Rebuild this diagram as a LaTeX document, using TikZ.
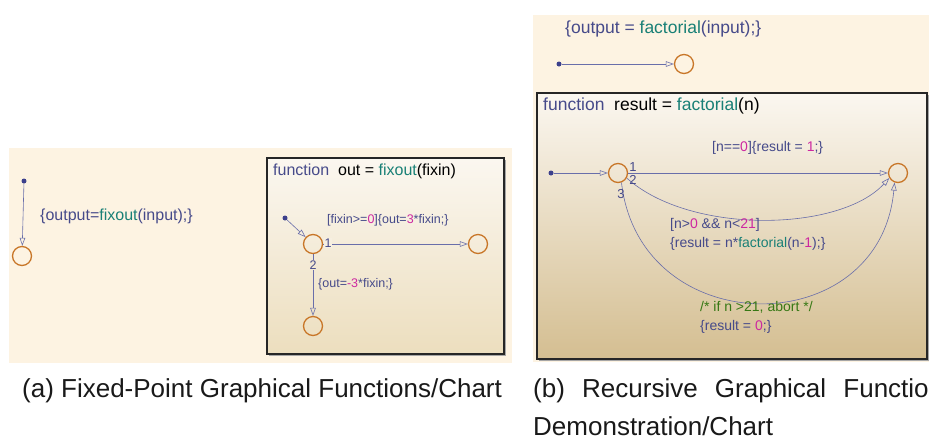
\documentclass[tikz,border=0pt]{standalone}
\usepackage{fontspec}
\setmainfont{Liberation Sans}
\usetikzlibrary{arrows.meta}
\definecolor{bgcream}{RGB}{253,243,226}
\definecolor{txtblue}{RGB}{70,74,138}
\definecolor{fnteal}{RGB}{25,128,118}
\definecolor{nummag}{RGB}{205,40,160}
\definecolor{cmtgreen}{RGB}{55,120,20}
\definecolor{stateor}{RGB}{200,118,40}
\definecolor{transbl}{RGB}{105,110,170}
\definecolor{dotbl}{RGB}{60,64,140}
\definecolor{boxtop}{RGB}{251,247,240}
\definecolor{boxbotA}{RGB}{236,222,190}
\definecolor{boxbotB}{RGB}{212,190,145}
\definecolor{capblack}{RGB}{25,25,25}
\newcommand{\fnc}[1]{\textcolor{fnteal}{#1}}
\newcommand{\nmg}[1]{\textcolor{nummag}{#1}}
\newcommand{\blk}[1]{\textcolor{black}{#1}}
\newcommand{\fsz}[1]{\fontsize{#1}{#1}\selectfont}
\begin{document}
\begin{tikzpicture}[x=1pt,y=-1pt,
  state/.style={circle,draw=stateor,line width=1.3pt,minimum size=19pt,inner sep=0pt},
  dotnode/.style={circle,fill=dotbl,minimum size=5pt,inner sep=0pt},
  trans/.style={draw=transbl,line width=0.6pt,-{Triangle[open,length=8pt,width=5.5pt]}},
  lbl/.style={inner sep=0pt,anchor=west,text=txtblue},
  num/.style={inner sep=0pt,text=txtblue},
  panel/.style={fill=bgcream,draw=none},
  shadowbox/.style={fill=black!35,draw=none},
  caption/.style={inner sep=0pt,anchor=west,text=capblack}]
\useasboundingbox (0,0) rectangle (929,437);
\fill[white] (0,0) rectangle (929,437);
% ---------------- panel (a)
\path[panel] (9,148) rectangle (512,363);
\node[dotnode] (a0) at (24,181) {};
\node[state] (a1) at (22,256) {};
\draw[trans] (a0) -- (a1);
\node[lbl,font=\fsz{16}] (alab) at (40,216) {\{output=\fnc{fixout}(input);\}};
\path[shadowbox] (269,160) rectangle (506,356);
\path[top color=boxtop,bottom color=boxbotA,draw=black!85,line width=1.4pt] (267,158) rectangle (504,354);
\node[lbl,font=\fsz{16}] (ahead) at (273,171) {function\ \ \blk{out = }\fnc{fixout}\blk{(fixin)}};
\node[dotnode] (b0) at (285,218) {};
\node[state] (b1) at (313,244) {};
\node[state] (b2) at (478,244) {};
\node[state] (b3) at (313,326) {};
\draw[trans] (b0) -- (b1);
\draw[trans] (b1) -- (b2);
\draw[trans] (b1) -- (b3);
\node[num,font=\fsz{12.5},fill=boxtop!70!boxbotA,inner sep=0.6pt] (b1n1) at (328,243) {1};
\node[num,font=\fsz{12.5},fill=boxtop!45!boxbotA,inner sep=0.6pt] (b1n2) at (313,265) {2};
\node[lbl,font=\fsz{12.5}] (blab1) at (327,220) {[fixin>=\nmg{0}]\{out=\nmg{3}*fixin;\}};
\node[lbl,font=\fsz{12.5}] (blab2) at (318,284) {\{out=\nmg{-3}*fixin;\}};
% ---------------- panel (b)
\path[panel] (533,15) rectangle (929,362);
\node[lbl,font=\fsz{17.5}] (clab) at (565,29) {\{output = \fnc{factorial}(input);\}};
\node[dotnode] (c0) at (559,64) {};
\node[state] (c1) at (684,64) {};
\draw[trans] (c0) -- (c1);
\path[shadowbox] (539,95) rectangle (929,361);
\path[top color=boxtop,bottom color=boxbotB,draw=black!85,line width=1.4pt] (537,93) rectangle (927,359);
\node[lbl,font=\fsz{17.5}] (dhead) at (543,106) {function\ \ \blk{result = }\fnc{factorial}\blk{(n)}};
\node[lbl,font=\fsz{14}] (dlab0) at (712,148) {[n==\nmg{0}]\{result = \nmg{1};\}};
\node[dotnode] (d0) at (551,173) {};
\node[state] (d1) at (618,173) {};
\node[state] (d2) at (898,173) {};
\draw[trans] (d0) -- (d1);
\draw[trans] (d1) -- (d2);
\draw[trans] (d1.-30) .. controls (690,235) and (840,232) .. (d2.-150);
\draw[trans] (d1.-70) .. controls (640,343) and (880,343) .. (d2.-110);
\node[num,font=\fsz{13}] (dn1) at (633,167) {1};
\node[num,font=\fsz{13}] (dn2) at (633,180) {2};
\node[num,font=\fsz{13}] (dn3) at (621,194) {3};
\node[lbl,font=\fsz{14}] (dlab1) at (670,225) {[n>\nmg{0} \&\& n<\nmg{21}]};
\node[lbl,font=\fsz{14}] (dlab2) at (670,244) {\{result = n*\fnc{factorial}(n-\nmg{1});\}};
\node[lbl,font=\fsz{14},text=cmtgreen] (dlab3) at (700,307) {/* if n >21, abort */};
\node[lbl,font=\fsz{14}] (dlab4) at (700,327) {\{result = \nmg{0};\}};
% ---------------- captions
\begin{scope}
\clip (0,0) rectangle (929,437);
\node[caption,font=\fsz{26}] (capa) at (22,391) {(a) Fixed-Point Graphical Functions/Chart};
\node[caption,font=\fsz{26}] (capb) at (533,391) {\makebox[410pt][s]{(b) Recursive Graphical Function}};
\node[caption,font=\fsz{26}] (capb2) at (533,426) {Demonstration/Chart};
\end{scope}
\end{tikzpicture}
\end{document}
